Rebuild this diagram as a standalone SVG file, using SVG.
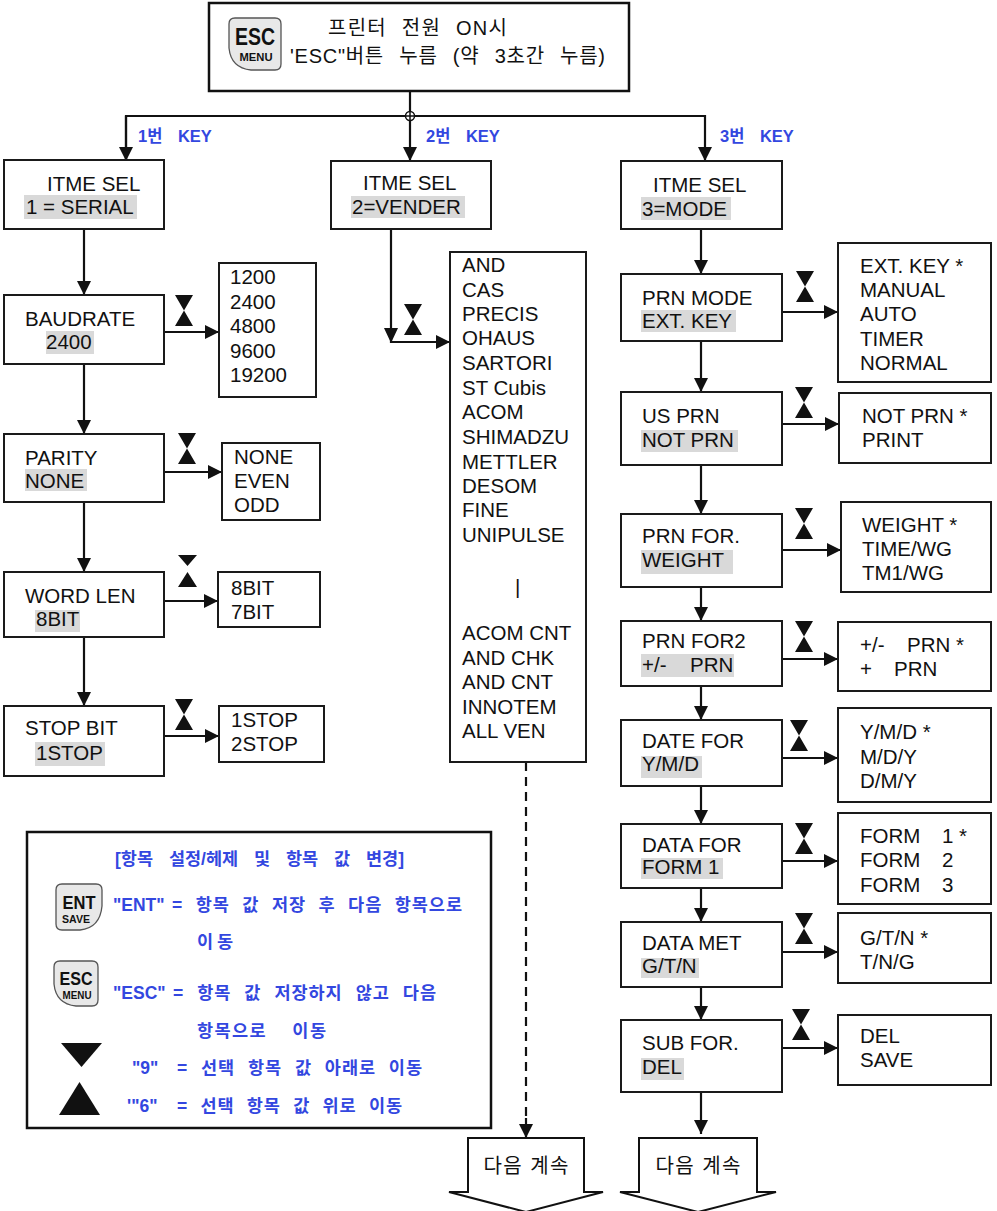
<svg xmlns="http://www.w3.org/2000/svg" width="997" height="1211" viewBox="0 0 997 1211">
<style>
.box{fill:#fff;stroke:#1a1a1a;stroke-width:2}
.t{font-family:"Liberation Sans","Noto Sans CJK KR",Arial,sans-serif;font-size:20.5px;fill:#111}
.k{font-family:"Liberation Sans","Noto Sans CJK KR",sans-serif;font-size:20px;fill:#111}
.hl{fill:#d9d9d9}
.ln{stroke:#111;stroke-width:2.2;fill:none}
.bl{font-family:"Liberation Sans","Noto Sans CJK KR",sans-serif;font-weight:bold;fill:#3347e0;font-size:16.5px;word-spacing:11px}
.lg{font-family:"Liberation Sans","Noto Sans CJK KR",sans-serif;font-weight:bold;fill:#3347e0;font-size:17.5px}
.key{fill:#e8e8e8;stroke:#555;stroke-width:1.3}
.kt{font-family:"Liberation Sans",Arial,sans-serif;font-weight:bold;fill:#111;text-anchor:middle}
</style>
<defs>
<marker id="ah" viewBox="0 0 10 10" refX="10" refY="5" markerWidth="14" markerHeight="14" markerUnits="userSpaceOnUse" orient="auto"><path d="M0,0 L10,5 L0,10 Z" fill="#111"/></marker>
<path id="hg" d="M0,0 H18 L9,15.5 Z M9,15.5 L18,31 H0 Z" fill="#111"/>
</defs>
<rect width="997" height="1211" fill="#fff"/>

<!-- connectors -->
<g id="connectors" class="ln">
<path d="M410,91 V116"/>
<path d="M126,161 V116 H705 V161" marker-end="url(#ah)"/>
<path d="M126,116 V161" marker-end="url(#ah)"/>
<path d="M410,116 V161" marker-end="url(#ah)"/>
<circle cx="410" cy="116" r="4.5" fill="#fff" stroke-width="1.5"/>
<path d="M405.5,116 H414.5 M410,111.5 V120.5" stroke-width="1.5"/>
<!-- left column -->
<path d="M84,229 V295" marker-end="url(#ah)"/>
<path d="M164,332 H219" marker-end="url(#ah)"/>
<path d="M84,364 V434" marker-end="url(#ah)"/>
<path d="M164,472 H222" marker-end="url(#ah)"/>
<path d="M84,502 V572" marker-end="url(#ah)"/>
<path d="M164,601 H218" marker-end="url(#ah)"/>
<path d="M84,637 V706" marker-end="url(#ah)"/>
<path d="M164,736 H219" marker-end="url(#ah)"/>
<!-- middle -->
<path d="M391,229 V342 H450" marker-end="url(#ah)"/>
<path d="M384,328 H398 L391,343 Z" fill="#111" stroke="none"/>
<path d="M526,762 V1122" stroke-dasharray="9 6"/>
<path d="M526,1118 V1138" marker-end="url(#ah)"/>
<!-- right column -->
<path d="M701,229 V274" marker-end="url(#ah)"/>
<path d="M782,312 H838" marker-end="url(#ah)"/>
<path d="M701,341 V392" marker-end="url(#ah)"/>
<path d="M782,424 H839" marker-end="url(#ah)"/>
<path d="M701,465 V514" marker-end="url(#ah)"/>
<path d="M782,550 H841" marker-end="url(#ah)"/>
<path d="M701,587 V621" marker-end="url(#ah)"/>
<path d="M782,659 H838" marker-end="url(#ah)"/>
<path d="M701,686 V720" marker-end="url(#ah)"/>
<path d="M782,758 H838" marker-end="url(#ah)"/>
<path d="M701,786 V824" marker-end="url(#ah)"/>
<path d="M782,861 H838" marker-end="url(#ah)"/>
<path d="M701,888 V922" marker-end="url(#ah)"/>
<path d="M782,952 H838" marker-end="url(#ah)"/>
<path d="M701,987 V1020" marker-end="url(#ah)"/>
<path d="M782,1048 H838" marker-end="url(#ah)"/>
<path d="M701,1092 V1134" marker-end="url(#ah)"/>
</g>

<!-- hourglasses -->
<g id="hourglasses">
<use href="#hg" x="175" y="295"/>
<use href="#hg" x="178" y="433"/>
<path d="M178,555 H197 L187.5,566 Z M187.5,572 L197,587 H178 Z" fill="#111"/>
<use href="#hg" x="175" y="699"/>
<use href="#hg" x="404" y="304"/>
<use href="#hg" x="796" y="271"/>
<use href="#hg" x="795" y="387"/>
<use href="#hg" x="795" y="508"/>
<use href="#hg" x="795" y="621"/>
<use href="#hg" x="790" y="720"/>
<use href="#hg" x="795" y="823"/>
<use href="#hg" x="795" y="913"/>
<use href="#hg" x="792" y="1009"/>
</g>

<!-- key labels -->
<g id="key-labels">
<text class="bl" x="138" y="142">1번 KEY</text>
<text class="bl" x="426" y="142">2번 KEY</text>
<text class="bl" x="720" y="142">3번 KEY</text>
</g>

<!-- header -->
<g id="start">
<rect x="209" y="3" width="420" height="88" fill="#fff" stroke="#111" stroke-width="2.5"/>
<path class="key" d="M235,18 H275 Q281,18 281,24 V64 Q281,70 275,70 H251 Q231,68 229,48 V24 Q229,18 235,18 Z"/>
<text class="kt" x="255" y="45" font-size="23" textLength="40" lengthAdjust="spacingAndGlyphs">ESC</text>
<text class="kt" x="256" y="61" font-size="11.5" textLength="33" lengthAdjust="spacingAndGlyphs">MENU</text>
<text class="k" x="328" y="35" word-spacing="8" textLength="179">프린터 전원 ON시</text>
<text class="k" x="290" y="63" word-spacing="9" textLength="315">'ESC"버튼 누름 (약 3초간 누름)</text>
</g>

<!-- left column -->
<g id="itme-sel-1">
<rect class="box" x="4" y="160" width="160" height="69"/>
<rect class="hl" x="24" y="195" width="113" height="24"/>
<text class="t" x="47" y="191">ITME SEL</text>
<text class="t" x="26" y="214">1 = SERIAL</text>
</g>
<g id="baudrate">
<rect class="box" x="4" y="295" width="160" height="69"/>
<rect class="hl" x="46" y="331" width="48" height="23"/>
<text class="t" x="25" y="326">BAUDRATE</text>
<text class="t" x="46" y="349">2400</text>
</g>
<g id="baud-options">
<rect class="box" x="219" y="263" width="97" height="134"/>
<text class="t" x="230" y="284">1200</text>
<text class="t" x="230" y="308.5">2400</text>
<text class="t" x="230" y="333">4800</text>
<text class="t" x="230" y="357.5">9600</text>
<text class="t" x="230" y="382">19200</text>
</g>
<g id="parity">
<rect class="box" x="4" y="434" width="160" height="68"/>
<rect class="hl" x="25" y="469" width="62" height="22"/>
<text class="t" x="25" y="465">PARITY</text>
<text class="t" x="25" y="488">NONE</text>
</g>
<g id="parity-options">
<rect class="box" x="222" y="443" width="98" height="77"/>
<text class="t" x="234" y="464">NONE</text>
<text class="t" x="234" y="488">EVEN</text>
<text class="t" x="234" y="512">ODD</text>
</g>
<g id="word-len">
<rect class="box" x="4" y="572" width="160" height="65"/>
<rect class="hl" x="35" y="610" width="45" height="22"/>
<text class="t" x="25" y="603">WORD LEN</text>
<text class="t" x="36" y="626">8BIT</text>
</g>
<g id="word-options">
<rect class="box" x="218" y="572" width="102" height="55"/>
<text class="t" x="231" y="595">8BIT</text>
<text class="t" x="231" y="619">7BIT</text>
</g>
<g id="stop-bit">
<rect class="box" x="4" y="706" width="160" height="70"/>
<rect class="hl" x="35" y="742" width="70" height="24"/>
<text class="t" x="25" y="735">STOP BIT</text>
<text class="t" x="36" y="760">1STOP</text>
</g>
<g id="stop-options">
<rect class="box" x="219" y="706" width="105" height="56"/>
<text class="t" x="231" y="727">1STOP</text>
<text class="t" x="231" y="751">2STOP</text>
</g>

<!-- middle column -->
<g id="itme-sel-2">
<rect class="box" x="331" y="161" width="160" height="68"/>
<rect class="hl" x="351" y="196" width="114" height="22"/>
<text class="t" x="363" y="190">ITME SEL</text>
<text class="t" x="352" y="214">2=VENDER</text>
</g>
<g id="vendor-options">
<rect class="box" x="450" y="252" width="136" height="510"/>
<text class="t" x="462" y="272">AND</text>
<text class="t" x="462" y="297">CAS</text>
<text class="t" x="462" y="321">PRECIS</text>
<text class="t" x="462" y="345">OHAUS</text>
<text class="t" x="462" y="370">SARTORI</text>
<text class="t" x="462" y="395">ST Cubis</text>
<text class="t" x="462" y="419">ACOM</text>
<text class="t" x="462" y="444">SHIMADZU</text>
<text class="t" x="462" y="469">METTLER</text>
<text class="t" x="462" y="493">DESOM</text>
<text class="t" x="462" y="517">FINE</text>
<text class="t" x="462" y="542">UNIPULSE</text>
<text class="t" x="515" y="594">|</text>
<text class="t" x="462" y="640">ACOM CNT</text>
<text class="t" x="462" y="665">AND CHK</text>
<text class="t" x="462" y="689">AND CNT</text>
<text class="t" x="462" y="714">INNOTEM</text>
<text class="t" x="462" y="738">ALL VEN</text>
</g>
<g id="continue-1">
<path d="M468,1138 H584 V1192 H603 L526,1212 L449,1192 H468 Z" fill="#fff" stroke="#111" stroke-width="2"/>
<text class="k" x="526" y="1173" text-anchor="middle" font-size="19" textLength="85">다음 계속</text>
</g>

<!-- right column -->
<g id="itme-sel-3">
<rect class="box" x="621" y="161" width="161" height="68"/>
<rect class="hl" x="641" y="197" width="90" height="23"/>
<text class="t" x="653" y="192">ITME SEL</text>
<text class="t" x="642" y="216">3=MODE</text>
</g>
<g id="prn-mode">
<rect class="box" x="621" y="274" width="161" height="67"/>
<rect class="hl" x="641" y="310" width="95" height="22"/>
<text class="t" x="642" y="305">PRN MODE</text>
<text class="t" x="642" y="328">EXT. KEY</text>
</g>
<g id="prn-mode-options">
<rect class="box" x="838" y="243" width="153" height="139"/>
<text class="t" x="860" y="273">EXT. KEY *</text>
<text class="t" x="860" y="297">MANUAL</text>
<text class="t" x="860" y="321">AUTO</text>
<text class="t" x="860" y="346">TIMER</text>
<text class="t" x="860" y="370">NORMAL</text>
</g>
<g id="us-prn">
<rect class="box" x="621" y="392" width="161" height="73"/>
<rect class="hl" x="641" y="430" width="97" height="22"/>
<text class="t" x="642" y="423">US PRN</text>
<text class="t" x="642" y="447">NOT PRN</text>
</g>
<g id="us-prn-options">
<rect class="box" x="839" y="393" width="152" height="70"/>
<text class="t" x="862" y="423">NOT PRN *</text>
<text class="t" x="862" y="447">PRINT</text>
</g>
<g id="prn-for">
<rect class="box" x="621" y="514" width="161" height="73"/>
<rect class="hl" x="641" y="550" width="92" height="24"/>
<text class="t" x="642" y="543">PRN FOR.</text>
<text class="t" x="642" y="567">WEIGHT</text>
</g>
<g id="prn-for-options">
<rect class="box" x="841" y="502" width="150" height="90"/>
<text class="t" x="862" y="532">WEIGHT *</text>
<text class="t" x="862" y="556">TIME/WG</text>
<text class="t" x="862" y="580">TM1/WG</text>
</g>
<g id="prn-for2">
<rect class="box" x="621" y="621" width="161" height="65"/>
<rect class="hl" x="641" y="654" width="93" height="23"/>
<text class="t" x="642" y="648">PRN FOR2</text>
<text class="t" x="642" y="672">+/-</text>
<text class="t" x="690" y="672">PRN</text>
</g>
<g id="prn-for2-options">
<rect class="box" x="838" y="622" width="153" height="69"/>
<text class="t" x="860" y="652">+/-</text>
<text class="t" x="907" y="652">PRN *</text>
<text class="t" x="860" y="676">+</text>
<text class="t" x="894" y="676">PRN</text>
</g>
<g id="date-for">
<rect class="box" x="621" y="720" width="161" height="66"/>
<rect class="hl" x="641" y="756" width="61" height="22"/>
<text class="t" x="642" y="748">DATE FOR</text>
<text class="t" x="642" y="771">Y/M/D</text>
</g>
<g id="date-for-options">
<rect class="box" x="838" y="708" width="153" height="94"/>
<text class="t" x="860" y="739">Y/M/D *</text>
<text class="t" x="860" y="764">M/D/Y</text>
<text class="t" x="860" y="788">D/M/Y</text>
</g>
<g id="data-for">
<rect class="box" x="621" y="824" width="161" height="64"/>
<rect class="hl" x="641" y="858" width="82" height="21"/>
<text class="t" x="642" y="852">DATA FOR</text>
<text class="t" x="642" y="874">FORM 1</text>
</g>
<g id="data-for-options">
<rect class="box" x="838" y="813" width="153" height="91"/>
<text class="t" x="860" y="843">FORM</text><text class="t" x="942" y="843">1 *</text>
<text class="t" x="860" y="867">FORM</text><text class="t" x="942" y="867">2</text>
<text class="t" x="860" y="892">FORM</text><text class="t" x="942" y="892">3</text>
</g>
<g id="data-met">
<rect class="box" x="621" y="922" width="161" height="65"/>
<rect class="hl" x="641" y="958" width="58" height="20"/>
<text class="t" x="642" y="950">DATA MET</text>
<text class="t" x="642" y="973">G/T/N</text>
</g>
<g id="data-met-options">
<rect class="box" x="838" y="913" width="153" height="70"/>
<text class="t" x="860" y="945">G/T/N *</text>
<text class="t" x="860" y="969">T/N/G</text>
</g>
<g id="sub-for">
<rect class="box" x="621" y="1020" width="161" height="72"/>
<rect class="hl" x="641" y="1058" width="43" height="22"/>
<text class="t" x="642" y="1050">SUB FOR.</text>
<text class="t" x="642" y="1074">DEL</text>
</g>
<g id="sub-for-options">
<rect class="box" x="838" y="1015" width="153" height="70"/>
<text class="t" x="860" y="1043">DEL</text>
<text class="t" x="860" y="1067">SAVE</text>
</g>
<g id="continue-2">
<path d="M639,1138 H757 V1192 H776 L698,1212 L620,1192 H639 Z" fill="#fff" stroke="#111" stroke-width="2"/>
<text class="k" x="698" y="1173" text-anchor="middle" font-size="19" textLength="85">다음 계속</text>
</g>

<!-- legend -->
<g id="legend">
<rect x="27" y="832" width="464" height="296" fill="#fff" stroke="#111" stroke-width="2.5"/>
<text class="lg" x="115" y="865" word-spacing="11">[항목 설정/헤제 및 항목 값 변경]</text>
<path class="key" d="M62,884 H96 Q102,884 102,890 V906 Q100,928 80,930 H62 Q56,930 56,924 V890 Q56,884 62,884 Z"/>
<text class="kt" x="79" y="909" font-size="19" textLength="33" lengthAdjust="spacingAndGlyphs">ENT</text>
<text class="kt" x="76" y="923" font-size="10" textLength="28" lengthAdjust="spacingAndGlyphs">SAVE</text>
<text class="lg" x="113" y="911">"ENT"</text>
<text class="lg" x="172" y="911" word-spacing="6.7" textLength="290">= 항목 값 저장 후 다음 항목으로</text>
<text class="lg" x="197" y="948" textLength="36">이동</text>
<path class="key" d="M60,961 H92 Q98,961 98,967 V1000 Q98,1006 92,1006 H76 Q56,1004 54,984 V967 Q54,961 60,961 Z"/>
<text class="kt" x="76" y="985" font-size="19" textLength="33" lengthAdjust="spacingAndGlyphs">ESC</text>
<text class="kt" x="77" y="999" font-size="10" textLength="29" lengthAdjust="spacingAndGlyphs">MENU</text>
<text class="lg" x="113" y="999">"ESC"</text>
<text class="lg" x="173" y="999" word-spacing="7.2" textLength="263">= 항목 값 저장하지 않고 다음</text>
<text class="lg" x="197" y="1037" word-spacing="19" textLength="129">항목으로 이동</text>
<path d="M61,1043 H102 L81.5,1067 Z" fill="#111"/>
<text class="lg" x="132" y="1074">"9"</text>
<text class="lg" x="177" y="1074" word-spacing="7" textLength="245">= 선택 항목 값 아래로 이동</text>
<path d="M79.5,1082 L100,1115 H59 Z" fill="#111"/>
<text class="lg" x="127" y="1112">'"6"</text>
<text class="lg" x="177" y="1112" word-spacing="6.6" textLength="225">= 선택 항목 값 위로 이동</text>
</g>
</svg>
